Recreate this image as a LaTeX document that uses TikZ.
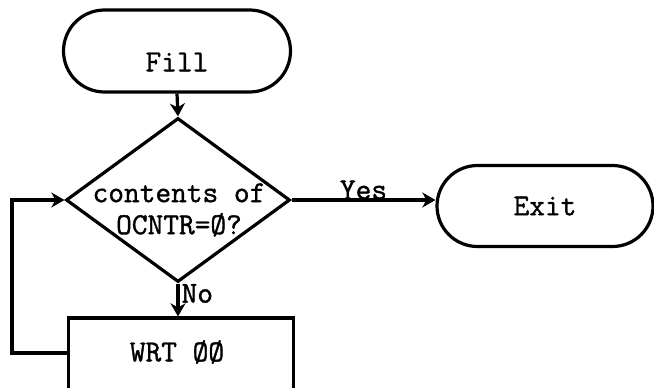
\documentclass[tikz,border=0pt]{standalone}
\usepackage{fontspec}
\newfontfamily\twfont{Latin Modern Mono}[FakeBold=1.2]
\usetikzlibrary{shapes.geometric,shapes.misc,arrows.meta}
\tikzset{
  every node/.style={font=\twfont\fontsize{30.5}{32}\selectfont},
  term/.style={draw, rounded rectangle, line width=3.2pt, inner sep=0pt},
  decision/.style={draw, diamond, line width=3.2pt, inner sep=0pt},
  process/.style={draw, rectangle, line width=3.2pt, inner sep=0pt},
  flow/.style={line width=3.2pt, -{Stealth[length=13pt,width=15pt,inset=4pt]}},
  lbl/.style={inner sep=0pt, align=center}
}
\begin{document}
\begin{tikzpicture}[x=1pt,y=-1pt]
\useasboundingbox (0,0) rectangle (654,388);
\clip (0,0) rectangle (654,388);
\node[term, minimum width=227pt, minimum height=82pt] (fill) at (177,51) {};
\node[lbl] (filltext) at (177,62) {Fill};
\node[decision, minimum width=224pt, minimum height=164pt] (dec) at (178,200) {};
\node[lbl] (dectext) at (179,210) {contents of\\OCNTR=Ø?};
\node[term, minimum width=216pt, minimum height=81pt] (exit) at (545,206) {Exit};
\node[process, minimum width=225pt, minimum height=78pt] (wrt) at (181,357) {};
\node[lbl] (wrttext) at (177,352) {WRT ØØ};
\coordinate (c1) at (12,353);
\draw[flow] (fill.south) -- (dec.north);
\draw[flow] (dec.east) -- (dec.east -| exit.west) node[midway, above=-1pt, lbl] (yes) {Yes};
\draw[flow] (dec.south) -- (dec.south |- wrt.north) node[pos=0.3, right=2pt, lbl] (no) {No};
\draw[flow] (wrt.west |- c1) -- (c1) |- (dec.west);
\end{tikzpicture}
\end{document}
